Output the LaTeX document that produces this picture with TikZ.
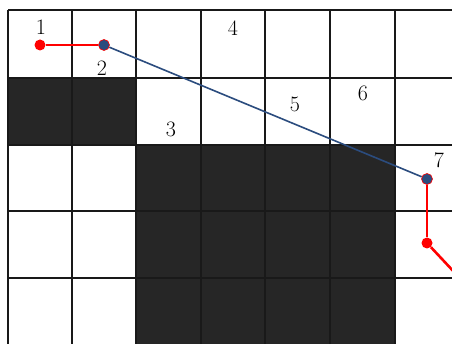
\documentclass[tikz,border=0pt]{standalone}
\usepackage{tikz}
\usetikzlibrary{positioning, calc}

\definecolor{cellgray}{HTML}{262626}
\definecolor{pathblue}{HTML}{2B4C7E}

\tikzset{
    gridline/.style={line width=1.1pt, black!90},
    darkcell/.style={fill=cellgray},
    reddot/.style={circle, fill=red, inner sep=0pt, minimum size=11pt},
    bluedot/.style={circle, fill=pathblue, draw=red, line width=0.6pt, inner sep=0pt, minimum size=11pt},
    redpath/.style={red, line width=2.6pt},
    bluepath/.style={pathblue, line width=1.6pt},
    celllabel/.style={font=\fontsize{22}{26}\selectfont, inner sep=0pt}
}

\begin{document}
\begin{tikzpicture}[x=1pt, y=-1pt]

    % --- Frame ---
    \useasboundingbox (0,0) rectangle (452,344);
    \fill[white] (0,0) rectangle (452,344);
    \clip (0,0) rectangle (452,344);

    % --- Obstacle cells ---
    \fill[darkcell] (8,78) rectangle (136,145);
    \fill[darkcell] (136,145) rectangle (395,360);

    % --- Grid ---
    \foreach \x in {8,72,136,201,265,330,395}
        \draw[gridline] (\x,10) -- (\x,360);
    \foreach \y in {10,78,145,211,278}
        \draw[gridline] (8,\y) -- (470,\y);

    % --- Path points ---
    \node[reddot] (p1) at (40,45) {};
    \node[bluedot] (p2) at (104,45) {};
    \node[bluedot] (p7) at (427,179) {};
    \node[reddot] (p8) at (427,243) {};
    \coordinate (pout) at (470,289);

    % --- Connectors ---
    \draw[redpath] (p1) -- (p2);
    \draw[bluepath] (p2) -- (p7);
    \draw[redpath] (p7) -- (p8);
    \draw[redpath] (p8) -- (pout);

    % --- Labels ---
    \node[celllabel] (lab1) at (41,27) {1};
    \node[celllabel] (lab2) at (102,68) {2};
    \node[celllabel] (lab3) at (171,129) {3};
    \node[celllabel] (lab4) at (233,28) {4};
    \node[celllabel] (lab5) at (295,104) {5};
    \node[celllabel] (lab6) at (363,93) {6};
    \node[celllabel] (lab7) at (439,160) {7};

\end{tikzpicture}
\end{document}
